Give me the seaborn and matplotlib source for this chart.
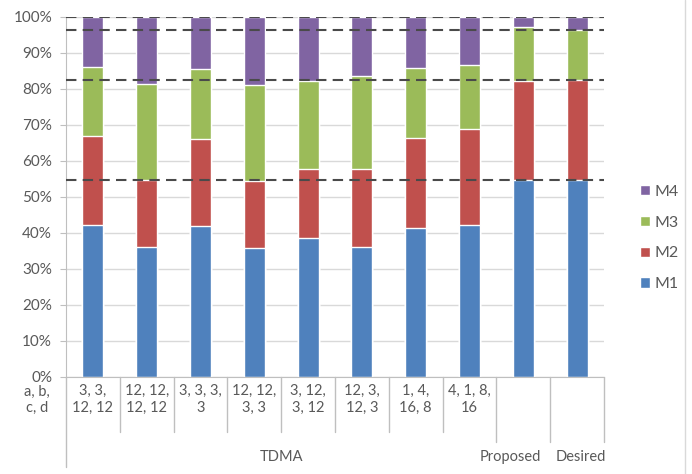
import numpy as np
import pandas as pd
import matplotlib
matplotlib.use('Agg')
import matplotlib.pyplot as plt
import seaborn as sns
from matplotlib.patches import Patch
from matplotlib.lines import Line2D

# Bar categories (first-level labels) and their group names
configs = ['3, 3,\n12, 12', '12, 12,\n12, 12', '3, 3, 3,\n3', '12, 12,\n3, 3',
           '3, 12,\n3, 12', '12, 3,\n12, 3', '1, 4,\n16, 8', '4, 1, 8,\n16',
           '', ' ']
groups = ['TDMA', 'Proposed', 'Desired']

# share of each part per bar (%)
m1 = [42.2, 36.0, 42.0, 35.7, 38.5, 36.2, 41.3, 42.2, 54.7, 54.7]
m2 = [24.8, 18.7, 24.0, 18.7, 19.3, 21.6, 25.0, 26.7, 27.5, 27.8]
m3 = [19.0, 26.7, 19.6, 26.7, 24.5, 25.8, 19.4, 17.8, 14.9, 14.0]
m4 = [14.0, 18.6, 14.4, 18.9, 17.7, 16.4, 14.3, 13.3, 2.9, 3.5]

series = ['M1', 'M2', 'M3', 'M4']
colors = {'M1': '#4F81BD', 'M2': '#C0504D', 'M3': '#9BBB59', 'M4': '#8064A2'}
text_col = '#595959'
fs = 10.5

df = pd.DataFrame({'config': configs, 'M1': m1, 'M2': m2, 'M3': m3, 'M4': m4})
cum = df[series].cumsum(axis=1)
cum['config'] = df['config']

sns.set_style('white')
plt.rcParams['font.family'] = ['Lato', 'DejaVu Sans']

fig = plt.figure(figsize=(6.92, 4.74), dpi=100)
ax = fig.add_axes([66 / 692, 1 - 377 / 474, 538 / 692, 360 / 474])

# stacked bars: draw cumulative totals from the top series down
for s in reversed(series):
    sns.barplot(data=cum, x='config', y=s, color=colors[s], width=0.39,
                saturation=1, ax=ax, zorder=2, order=configs)

# reference lines at the "Desired" bar's cumulative levels
desired = cum.iloc[-1][series].astype(float).values
for lvl in desired:
    ax.axhline(lvl, color='#4a4a4a', lw=1.5, linestyle=(0, (5, 3)), zorder=3)

ax.set_ylim(0, 100)
ax.set_xlim(-0.5, len(configs) - 0.5)
ax.set_yticks(np.arange(0, 101, 10))
ax.set_yticklabels([f'{v}%' for v in range(0, 101, 10)])
ax.yaxis.grid(True, color='#d9d9d9', lw=1, zorder=0)
ax.set_axisbelow(True)
ax.set_xlabel('')
ax.set_ylabel('')
for side in ['top', 'right']:
    ax.spines[side].set_visible(False)
for side in ['left', 'bottom']:
    ax.spines[side].set_color('#bfbfbf')
ax.tick_params(axis='y', length=4, color='#bfbfbf', colors=text_col,
               labelsize=fs + 0.5, pad=6, left=True)
ax.tick_params(axis='x', length=0, colors=text_col, labelsize=fs, pad=5)
ax.set_xticks(range(len(configs)))
ax.set_xticklabels(configs, linespacing=1.25)

# category table lines below the axis
tr = ax.get_xaxis_transform()
for i in range(1, 8):
    ax.add_line(Line2D([i - 0.5, i - 0.5], [0, -0.153], transform=tr,
                       color='#bfbfbf', lw=1, clip_on=False))
for i in [7.5, 8.5, 9.5]:
    ax.add_line(Line2D([i, i], [0, -0.181], transform=tr,
                       color='#bfbfbf', lw=1, clip_on=False))
ax.add_line(Line2D([-0.5, -0.5], [0, -0.25], transform=tr,
                   color='#bfbfbf', lw=1, clip_on=False))

# group labels
ax.text(3.5, -0.222, groups[0], transform=tr, ha='center', va='center',
        fontsize=fs, color=text_col)
fig.text(541 / 692, 1 - 457 / 474, groups[1], ha='right', va='center',
         fontsize=fs, color=text_col)
fig.text(606 / 692, 1 - 457 / 474, groups[2], ha='right', va='center',
         fontsize=fs, color=text_col)
fig.text(37 / 692, 1 - 400 / 474, 'a, b,\nc, d', ha='center', va='center',
         fontsize=fs, color=text_col, linespacing=1.25)

# legend
handles = [Patch(facecolor=colors[s], label=s) for s in reversed(series)]
fig.legend(handles=handles, loc='center left', frameon=False,
           bbox_to_anchor=(626 / 692, 1 - 238 / 474), fontsize=11.5,
           handlelength=0.6, handleheight=0.6, handletextpad=0.3,
           labelspacing=1.05, labelcolor=text_col)

# chart border
fig.add_artist(Line2D([685 / 692, 685 / 692], [0, 1], transform=fig.transFigure,
                      color='#d9d9d9', lw=1))

fig.savefig('out.png', dpi=100)
